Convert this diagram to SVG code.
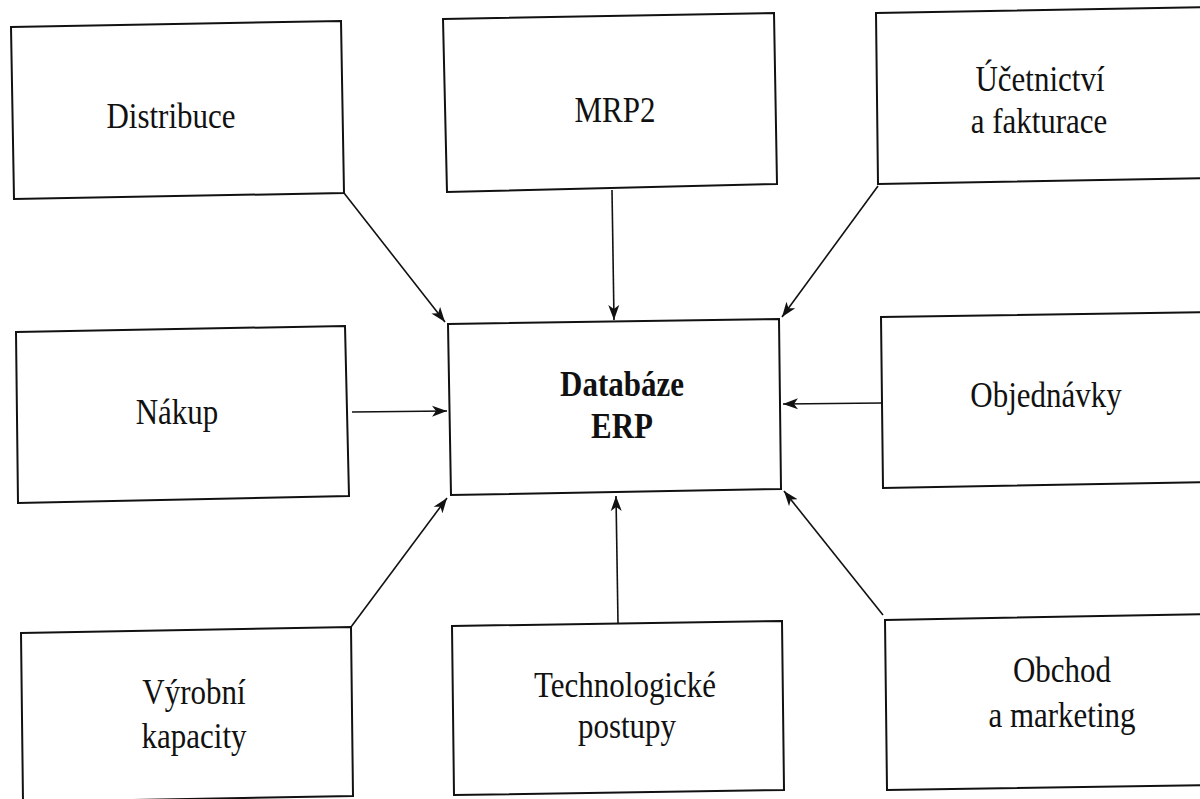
<svg xmlns="http://www.w3.org/2000/svg" width="1200" height="799" viewBox="0 0 1200 799">
  <style>
    .box { fill: #ffffff; stroke: #111111; stroke-width: 2; stroke-linejoin: miter; }
    .lbl { font-family: "Liberation Serif", "Times New Roman", serif; font-size: 31px; fill: #111111; text-anchor: middle; }
    .bold { font-weight: bold; }
    .conn { fill: none; stroke: #111111; stroke-width: 1.6; marker-end: url(#arrow); }
  </style>
  <defs>
    <marker id="arrow" markerUnits="userSpaceOnUse" markerWidth="16" markerHeight="12" viewBox="0 0 16 12" refX="15" refY="6" orient="auto">
      <path d="M0,0.5 L15,6 L0,11.5 L4,6 Z" fill="#111111"/>
    </marker>
  </defs>
  <rect x="0" y="0" width="1200" height="799" fill="#ffffff"/>

  <!-- central database -->
  <g id="databaze-erp">
    <polygon class="box" points="448,324 779,319 781,489 451,495"/>
    <text class="lbl bold" transform="translate(622,396) scale(1,1.15)">Databáze</text>
    <text class="lbl bold" transform="translate(622,438) scale(1,1.15)">ERP</text>
  </g>

  <!-- surrounding modules -->
  <g id="distribuce">
    <polygon class="box" points="11,27 341,21 344,193 14,199"/>
    <text class="lbl" transform="translate(171,128) scale(1,1.15)">Distribuce</text>
  </g>
  <g id="mrp2">
    <polygon class="box" points="443,19 774,13 777,184 447,192"/>
    <text class="lbl" transform="translate(615,122) scale(1,1.15)">MRP2</text>
  </g>
  <g id="ucetnictvi">
    <polygon class="box" points="876,13 1210,7 1210,178 878,184"/>
    <text class="lbl" transform="translate(1040,91) scale(1,1.15)">Účetnictví</text>
    <text class="lbl" transform="translate(1039,133) scale(1,1.15)">a fakturace</text>
  </g>
  <g id="nakup">
    <polygon class="box" points="16,332 345,326 349,496 18,503"/>
    <text class="lbl" transform="translate(177,424) scale(1,1.15)">Nákup</text>
  </g>
  <g id="objednavky">
    <polygon class="box" points="881,317 1210,312 1210,482 883,488"/>
    <text class="lbl" transform="translate(1046,407) scale(1,1.15)">Objednávky</text>
  </g>
  <g id="vyrobni-kapacity">
    <polygon class="box" points="21,633 351,627 353,796 23,802"/>
    <text class="lbl" transform="translate(194,704) scale(1,1.15)">Výrobní</text>
    <text class="lbl" transform="translate(194,748) scale(1,1.15)">kapacity</text>
  </g>
  <g id="technologicke-postupy">
    <polygon class="box" points="452,626 782,621 784,790 454,795"/>
    <text class="lbl" transform="translate(625,697) scale(1,1.15)">Technologické</text>
    <text class="lbl" transform="translate(627,738) scale(1,1.15)">postupy</text>
  </g>
  <g id="obchod-marketing">
    <polygon class="box" points="885,620 1210,614 1210,785 887,790"/>
    <text class="lbl" transform="translate(1062,682) scale(1,1.15)">Obchod</text>
    <text class="lbl" transform="translate(1062,727) scale(1,1.15)">a marketing</text>
  </g>

  <!-- connectors into the database -->
  <g id="connectors">
    <line class="conn" x1="344" y1="193" x2="445" y2="322"/>
    <line class="conn" x1="612" y1="190" x2="614" y2="320"/>
    <line class="conn" x1="878" y1="186" x2="782" y2="317"/>
    <line class="conn" x1="352" y1="412" x2="447" y2="411"/>
    <line class="conn" x1="882" y1="403" x2="783" y2="404"/>
    <line class="conn" x1="351" y1="627" x2="447" y2="498"/>
    <line class="conn" x1="618" y1="623" x2="616" y2="496"/>
    <line class="conn" x1="883" y1="615" x2="784" y2="491"/>
  </g>
</svg>
